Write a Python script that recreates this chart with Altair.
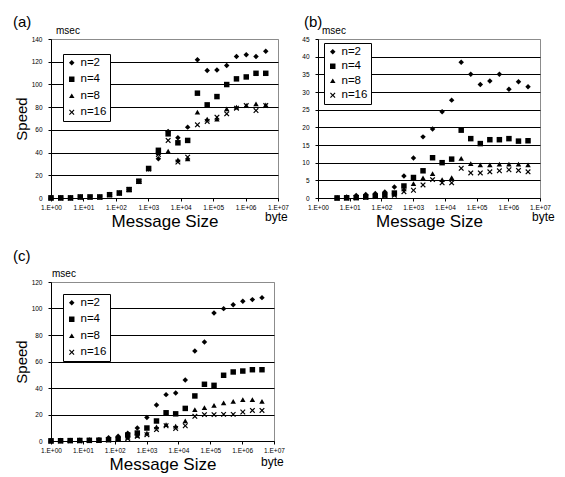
import altair as alt
import pandas as pd

FONT = "Liberation Sans"
SERIES = ["n=2", "n=4", "n=8", "n=16"]
X_SHAPE = ("M-1,-0.7L-0.7,-1L0,-0.3L0.7,-1L1,-0.7L0.3,0L1,0.7L0.7,1L0,0.3"
           "L-0.7,1L-1,0.7L-0.3,0Z")
SHAPES = ["diamond", "square", "triangle-up", X_SHAPE]
X_TICKS = [1, 10, 100, 1000, 10000, 100000, 1000000, 10000000]

# message sizes (bytes)
SIZES_AC = [1, 2, 4, 8, 16, 32, 64, 128, 256, 512, 1024, 2048, 4096, 8192,
            16384, 32768, 65536, 131072, 262144, 524288, 1048576, 2097152, 4194304]
SIZES_B = [4, 8, 16, 32, 64, 128, 256, 512, 1024, 2048, 4096, 8192,
           16384, 32768, 65536, 131072, 262144, 524288, 1048576, 2097152, 4194304]

# panel (a)
A_N2 = [0.2, 0.2, 0.2, 1.0, 1.0, 1.0, 3.0, 4.5, 7.6, 14.6, 25.6, 34.6, 58.5, 53.0, 62.4,
        121.8, 112.2, 112.8, 116.6, 124.5, 126.2, 124.5, 129.2]
A_N4 = [0.1, 0.1, 0.1, 0.9, 0.9, 0.9, 2.9, 4.4, 7.4, 14.8, 26.0, 42.0, 56.5, 48.6, 50.7,
        92.3, 82.0, 89.3, 99.9, 104.9, 106.6, 109.8, 109.8]
A_N8 = [0.0, 0.0, 0.0, 0.9, 0.9, 0.9, 2.9, 4.4, 7.4, 14.5, 25.8, 40.0, 41.3, 33.5, 34.5,
        75.6, 69.5, 69.5, 78.5, 80.0, 81.5, 82.9, 82.0]
A_N16 = [0.0, 0.0, 0.0, 0.9, 0.9, 0.9, 2.9, 4.4, 7.5, 14.5, 25.5, 38.4, 50.7, 31.6, 36.0,
         64.4, 67.4, 71.2, 74.1, 79.1, 81.4, 77.0, 81.4]

# panel (b)
B_N2 = [0.1, 0.3, 0.7, 1.0, 1.3, 1.7, 3.1, 6.2, 11.3, 17.3, 19.5, 24.4, 27.7, 38.4,
        35.0, 32.1, 33.1, 35.0, 30.8, 32.9, 31.5]
B_N4 = [0.0, 0.05, 0.1, 0.3, 0.5, 0.9, 1.4, 3.4, 5.8, 7.7, 11.4, 10.0, 11.0, 19.2,
        16.8, 15.4, 16.5, 16.5, 16.8, 16.1, 16.2]
B_N8 = [0.0, 0.05, 0.1, 0.3, 0.6, 0.8, 1.1, 2.6, 4.1, 5.7, 6.9, 5.2, 5.8, 11.2,
        9.7, 9.4, 9.4, 9.6, 9.6, 9.6, 9.4]
B_N16 = [0.0, 0.05, 0.1, 0.2, 0.4, 0.6, 0.8, 1.8, 2.2, 3.7, 5.2, 4.3, 4.3, 8.4,
         7.1, 7.1, 7.4, 7.7, 8.0, 7.8, 7.4]

# panel (c)
C_N2 = [0.2, 0.3, 0.4, 0.5, 0.7, 1.0, 2.5, 3.5, 5.8, 9.8, 17.8, 27.2, 35.0, 36.2, 46.0,
        67.9, 74.7, 96.6, 99.9, 102.9, 105.4, 106.7, 108.2]
C_N4 = [0.1, 0.2, 0.3, 0.4, 0.5, 0.6, 1.0, 1.5, 4.5, 6.0, 9.8, 15.1, 21.3, 20.5, 24.6,
        34.0, 42.8, 42.0, 49.6, 52.1, 52.8, 53.8, 53.8]
C_N8 = [0.1, 0.1, 0.2, 0.3, 0.4, 0.5, 1.0, 1.5, 3.0, 4.3, 6.0, 10.6, 12.3, 11.3, 15.1,
        23.6, 25.2, 26.9, 28.7, 29.9, 31.2, 31.2, 29.9]
C_N16 = [0.0, 0.1, 0.1, 0.2, 0.3, 0.4, 0.8, 1.2, 1.8, 3.5, 4.8, 8.6, 11.5, 9.5, 11.5,
         18.6, 19.9, 19.9, 20.1, 20.1, 21.9, 23.1, 23.1]


def frame(sizes, series_lists):
    rows = []
    for name, vals in zip(SERIES, series_lists):
        for s, v in zip(sizes, vals):
            rows.append({"size": s, "speed": v, "series": name})
    return pd.DataFrame(rows)


def text(label, x, y, size):
    return alt.Chart(alt.Data(values=[{"t": label}])).mark_text(
        text=label, font=FONT, fontSize=size, align="left", baseline="middle", color="black"
    ).encode(x=alt.value(x), y=alt.value(y))


def panel(df, ymax, ystep, width, height, letter, letter_xy, msec_xy, byte_xy,
          legend_xy, legend_rowpad, speed):
    yvals = list(range(0, ymax + 1, ystep))
    yaxis_kw = dict(values=yvals, grid=True,
                    gridColor={"condition": {"test": f"datum.value >= {ymax}", "value": "#8c8c8c"},
                               "value": "black"},
                    gridWidth=1, labelFont=FONT, labelFontSize=6.5, labelColor="black",
                    labelPadding=6, tickSize=3, tickColor="black", domainColor="black",
                    titleFont=FONT, titleFontSize=15, titleFontWeight="normal",
                    titleColor="black", titlePadding=2)
    if speed:
        yaxis = alt.Axis(title="Speed", **yaxis_kw)
    else:
        yaxis = alt.Axis(title=None, **yaxis_kw)
    xaxis = alt.Axis(values=X_TICKS, labelExpr="'1.E+0' + round(log(datum.value) / LN10)",
                     title="Message Size", titleFont=FONT, titleFontSize=17,
                     titleFontWeight="normal", titleColor="black", titlePadding=3,
                     labelFont=FONT, labelFontSize=6.5, labelColor="black", labelPadding=3,
                     labelFlush=False, labelOverlap=False,
                     tickSize=3, tickColor="black", domainColor="black", grid=False)
    legend = alt.Legend(title=None, orient="none", legendX=legend_xy[0], legendY=legend_xy[1],
                        fillColor="white", strokeColor="black", padding=3,
                        labelFont=FONT, labelFontSize=11.5, labelColor="black", labelOffset=3,
                        symbolSize=30, symbolFillColor="black", symbolStrokeColor="black",
                        symbolStrokeWidth=0, rowPadding=legend_rowpad, symbolOffset=0)
    pts = alt.Chart(df).mark_point(filled=True, size=30, color="black", strokeWidth=0,
                                   opacity=1).encode(
        x=alt.X("size:Q", scale=alt.Scale(type="log", domain=[1, 10000000], nice=False),
                axis=xaxis),
        y=alt.Y("speed:Q", scale=alt.Scale(domain=[0, ymax], nice=False), axis=yaxis),
        shape=alt.Shape("series:N", scale=alt.Scale(domain=SERIES, range=SHAPES),
                        legend=legend),
    )
    return alt.layer(
        pts,
        text(letter, letter_xy[0], letter_xy[1], 15),
        text("msec", msec_xy[0], msec_xy[1], 10),
        text("byte", byte_xy[0], byte_xy[1], 12),
    ).properties(width=width, height=height)


pa = panel(frame(SIZES_AC, [A_N2, A_N4, A_N8, A_N16]), 140, 20, 227, 159, "(a)",
           (-38, -17), (5, -8), (214, 178), (12, 15), 3.5, True)
pb = panel(frame(SIZES_B, [B_N2, B_N4, B_N8, B_N16]), 45, 5, 222, 159, "(b)",
           (-14, -17), (4, -8), (214, 178), (6, 4), 1.5, False)
pc = panel(frame(SIZES_AC, [C_N2, C_N4, C_N8, C_N16]), 120, 20, 223, 159, "(c)",
           (-38, -26), (1, -8), (210, 180), (12, 12), 3.5, True)

chart = alt.concat(
    pa, pb, pc, columns=2, spacing={"row": 84, "column": 40}, bounds="flush", align="all"
).resolve_scale(shape="independent").resolve_legend(shape="independent").configure_view(
    stroke="#8c8c8c", strokeWidth=1
).properties(padding={"left": 4, "top": 6, "right": 0, "bottom": 0})

chart.save("out.html", embed_options={"renderer": "svg", "actions": False})
